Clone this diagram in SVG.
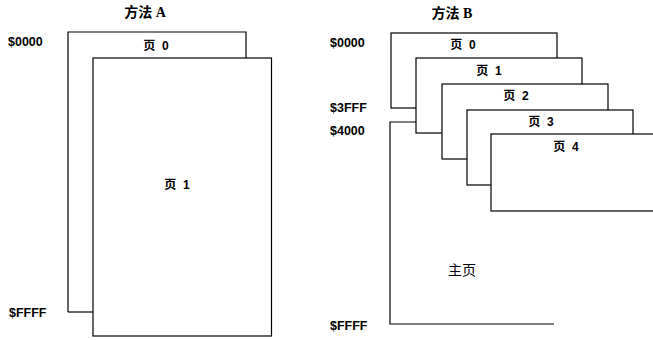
<svg xmlns="http://www.w3.org/2000/svg" width="653" height="340" viewBox="0 0 653 340">
<style>
.pg{fill:#fff;stroke:#000;stroke-width:1.2}
.t{font-family:"Liberation Serif","Noto Sans CJK SC",serif;font-weight:bold;font-size:14px;fill:#000}
.a{font-family:"Liberation Sans",Arial,sans-serif;font-weight:bold;font-size:12.5px;fill:#000}
.p{font-family:"Liberation Sans","Noto Sans CJK SC",sans-serif;font-size:12px;font-weight:bold;fill:#000;text-anchor:middle;white-space:pre}
.m{font-family:"Noto Sans CJK SC",sans-serif;font-size:14px;fill:#000;text-anchor:middle}
</style>
<rect width="653" height="340" fill="#fff"/>
<g id="methodA">
  <text class="t" x="145" y="17" text-anchor="middle">方法 A</text>
  <text class="a" x="8" y="46">$0000</text>
  <text class="a" x="9" y="317">$FFFF</text>
  <g id="A-page0">
    <path class="pg" d="M68 312 V32 H246 V58"/>
    <text class="p" x="156" y="50">页  0</text>
  </g>
  <g id="A-page1">
    <path class="pg" d="M68 312 H93"/>
    <rect class="pg" x="93" y="58" width="178.5" height="278"/>
    <text class="p" x="177" y="189">页  1</text>
  </g>
</g>
<g id="methodB">
  <text class="t" x="452" y="18" text-anchor="middle">方法 B</text>
  <text class="a" x="330" y="47">$0000</text>
  <text class="a" x="330" y="112">$3FFF</text>
  <text class="a" x="330" y="135">$4000</text>
  <text class="a" x="330" y="330">$FFFF</text>
  <g id="B-main">
    <path class="pg" d="M416 122 H390 V324 H554" fill="none"/>
    <text class="m" x="462" y="275">主页</text>
  </g>
  <g id="B-page0">
    <rect class="pg" x="391" y="33" width="166" height="75"/>
    <text class="p" x="463" y="49">页  0</text>
  </g>
  <g id="B-page1">
    <rect class="pg" x="416" y="58" width="166" height="75"/>
    <text class="p" x="489" y="75">页  1</text>
  </g>
  <g id="B-page2">
    <rect class="pg" x="442" y="84" width="166" height="75"/>
    <text class="p" x="516" y="100">页  2</text>
  </g>
  <g id="B-page3">
    <rect class="pg" x="467" y="110" width="166" height="75"/>
    <text class="p" x="541" y="126">页  3</text>
  </g>
  <g id="B-page4">
    <rect class="pg" x="491" y="134" width="170" height="77"/>
    <text class="p" x="566" y="151">页  4</text>
  </g>
</g>
</svg>
